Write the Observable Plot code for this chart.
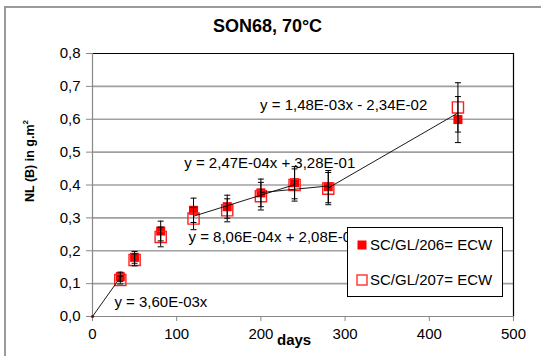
<!DOCTYPE html>
<html><head><meta charset="utf-8">
<script src="https://cdn.jsdelivr.net/npm/d3@7"></script>
<script src="https://cdn.jsdelivr.net/npm/@observablehq/plot@0.6"></script>
<style>
body{margin:0;background:#fff;font-family:"Liberation Sans",Arial,sans-serif;}
#wrap{position:relative;width:541px;height:356px;overflow:hidden;}
#wrap > svg{position:absolute;left:0;top:0;}
.lineTop{position:absolute;left:5px;top:6px;width:536px;height:2px;background:#9a9a9a;}
.lineLeft{position:absolute;left:4px;top:6px;width:2px;height:350px;background:#9a9a9a;}
#title{position:absolute;left:0;width:535px;top:16px;text-align:center;font-weight:bold;font-size:18px;}
#xlab{position:absolute;left:277px;top:331px;font-weight:bold;font-size:15px;}
#ylab{position:absolute;left:29px;top:161px;font-weight:bold;font-size:12.5px;transform:translate(-50%,-50%) rotate(-90deg);white-space:nowrap;}
#legend{position:absolute;left:347px;top:227px;width:156px;height:70px;background:#fff;border:1px solid #000;box-sizing:border-box;font-size:15px;}
#legend .row{position:absolute;left:8px;display:flex;align-items:center;white-space:nowrap;}
#legend .row svg{display:block;margin-right:2px;}
</style></head>
<body>
<div id="wrap">
<div class="lineTop"></div><div class="lineLeft"></div>
<div id="title">SON68, 70°C</div>
<div id="xlab">days</div>
<div id="ylab">NL (B) in g.m<sup style="font-size:8px">2</sup></div>
</div>
<script>
const days   = [33, 50, 81, 120, 160, 200, 240, 280, 434];
const nl206  = [0.121, 0.180, 0.260, 0.323, 0.334, 0.376, 0.407, 0.395, 0.599];
const err206 = [0.014, 0.018, 0.030, 0.037, 0.035, 0.042, 0.049, 0.049, 0.070];
const nl207  = [0.111, 0.172, 0.242, 0.298, 0.323, 0.366, 0.400, 0.389, 0.636];
const err207 = [0.012, 0.018, 0.030, 0.034, 0.035, 0.042, 0.049, 0.049, 0.075];
const originX = [0], originY = [0];
// fitted segments (endpoints)
const fitX1 = [0, 120, 200, 280];
const fitY1 = [0, 0.305, 0.377, 0.391];
const fitX2 = [33, 240, 280, 434];
const fitY2 = [0.119, 0.401, 0.397, 0.619];
const eqText = ["y = 1,48E-03x - 2,34E-02", "y = 2,47E-04x + 3,28E-01", "y = 8,06E-04x + 2,08E-01", "y = 3,60E-03x"];
const eqX = [199, 109, 114, 26];
const eqY = [0.643, 0.466, 0.241, 0.043];
const xTicks = [0, 100, 200, 300, 400, 500];
const yTicks = [0, 0.1, 0.2, 0.3, 0.4, 0.5, 0.6, 0.7, 0.8];
const seriesNames = ["SC/GL/206= ECW", "SC/GL/207= ECW"];

const s206 = days.map((d, i) => ({x: d, y: nl206[i], e: err206[i]}));
const s207 = days.map((d, i) => ({x: d, y: nl207[i], e: err207[i]}));
const errAll = s206.concat(s207);
const fits = fitX1.map((d, i) => ({x1: d, y1: fitY1[i], x2: fitX2[i], y2: fitY2[i]}));
const eqs = eqText.map((t, i) => ({t, x: eqX[i], y: eqY[i]}));
const origin = originX.map((d, i) => ({x: d, y: originY[i]}));

const capSym = {draw(ctx) { ctx.moveTo(-3, 0); ctx.lineTo(3, 0); }};
const fmt = d => d.toFixed(1).replace(".", ",");

const chart = Plot.plot({
  width: 541, height: 356,
  marginLeft: 92, marginRight: 28, marginTop: 53, marginBottom: 40,
  style: {fontFamily: "'Liberation Sans', Arial, sans-serif", fontSize: "15px", color: "#000", background: "transparent"},
  x: {domain: [0, 500]},
  y: {domain: [0, 0.8]},
  marks: [
    Plot.gridY(yTicks.filter(d => d > 0 && d < 0.8), {stroke: "#a0a0a0", strokeOpacity: 1, strokeWidth: 1.6}),
    Plot.axisY({ticks: yTicks, tickFormat: fmt, tickSize: 6, tickPadding: 6, stroke: "#888", fill: "#000", label: null}),
    Plot.axisX({ticks: xTicks, tickFormat: d => String(d), tickSize: 5, tickPadding: 7, stroke: "#888", fill: "#000", label: null}),
    Plot.ruleY([0.8], {stroke: "#000", strokeWidth: 1.2}),
    Plot.ruleX([500], {stroke: "#000", strokeWidth: 1.2}),
    Plot.ruleX([0], {stroke: "#888", strokeWidth: 1.2}),
    Plot.ruleY([0], {stroke: "#888", strokeWidth: 1.2}),
    Plot.text(eqs, {x: "x", y: "y", text: "t", textAnchor: "start", fontSize: 15, fill: "#000"}),
    Plot.dot(s206, {x: "x", y: "y", symbol: "square", r: 5.1, fill: "#ff0000", stroke: "none"}),
    Plot.dot(s207, {x: "x", y: "y", symbol: "square", r: 6.3, fill: "none", stroke: "#ff2020", strokeWidth: 1.4}),
    Plot.dot(origin, {x: "x", y: "y", r: 1.6, fill: "#b00000", stroke: "none"}),
    Plot.ruleX(errAll, {x: "x", y1: d => d.y - d.e, y2: d => d.y + d.e, stroke: "#000", strokeWidth: 1}),
    Plot.dot(errAll, {x: "x", y: d => d.y + d.e, symbol: capSym, r: 3, stroke: "#000", fill: "none", strokeWidth: 1}),
    Plot.dot(errAll, {x: "x", y: d => d.y - d.e, symbol: capSym, r: 3, stroke: "#000", fill: "none", strokeWidth: 1}),
    Plot.link(fits, {x1: "x1", y1: "y1", x2: "x2", y2: "y2", stroke: "#000", strokeWidth: 0.9})
  ]
});
const wrap = document.getElementById("wrap");
wrap.insertBefore(chart, wrap.firstChild);

const legend = document.createElement("div");
legend.id = "legend";
const rowTops = [8, 43];
seriesNames.forEach((n, i) => {
  const row = document.createElement("div");
  row.className = "row";
  row.style.top = rowTops[i] + "px";
  const sw = i === 0
    ? '<svg width="12" height="12"><rect x="1.5" y="1.5" width="9" height="9" fill="#ff0000"/></svg>'
    : '<svg width="12" height="12"><rect x="1" y="1" width="10" height="10" fill="none" stroke="#ff2020" stroke-width="1.3"/></svg>';
  row.innerHTML = sw + "<span>" + n + "</span>";
  legend.appendChild(row);
});
wrap.appendChild(legend);
</script>
</body></html>
